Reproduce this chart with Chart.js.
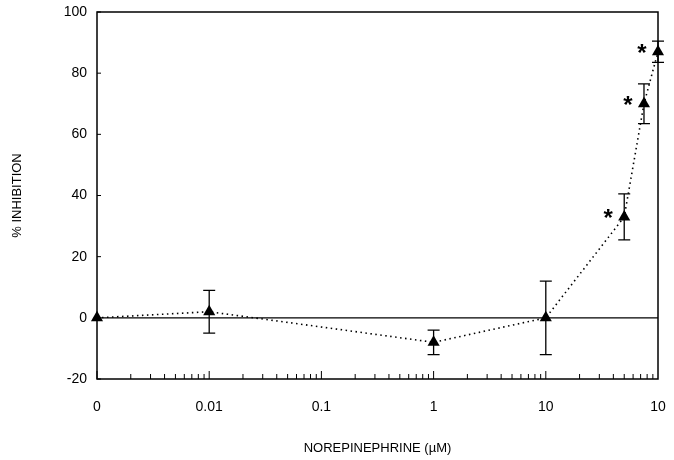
<!DOCTYPE html>
<html>
<head>
<meta charset="utf-8">
<script src="https://cdn.jsdelivr.net/npm/chart.js@4"></script>
<style>
  html, body { margin: 0; padding: 0; background: #fff; }
  #wrap { width: 674px; height: 460px; }
</style>
</head>
<body>
<div id="wrap"><canvas id="c" width="674" height="460"></canvas></div>
<script>
// ---- data ----
// Norepinephrine concentration (µM); 0 is plotted at the axis origin (break position)
const concentrations = [0, 0.01, 1, 10, 50, 75, 100];
const inhibitionMean = [0, 2, -8, 0, 33, 70, 87];
const inhibitionErr  = [0, 7, 4, 12, 7.5, 6.5, 3.5];
const significant    = [false, false, false, false, true, true, true];

// x tick positions in log10 units, and their printed labels
const xTickValues = [-3, -2, -1, 0, 1, 2];
const xTickLabels = ['0', '0.01', '0.1', '1', '10', '10'];
const yTickValues = [-20, 0, 20, 40, 60, 80, 100];

const ZERO_POS = -3; // where "0" sits on the log axis
const toLog = c => c === 0 ? ZERO_POS : Math.log10(c);

const points = concentrations.map((c, i) => ({ x: toLog(c), y: inhibitionMean[i] }));

const FONT = "'Liberation Sans', Arial, Helvetica, sans-serif";

const decorPlugin = {
  id: 'decor',
  beforeDatasetsDraw(chart) {
    const { ctx, chartArea: a, scales: { x, y } } = chart;
    ctx.save();
    ctx.strokeStyle = '#000';
    // frame
    ctx.lineWidth = 1.5;
    ctx.strokeRect(a.left, a.top, a.right - a.left, a.bottom - a.top);
    // zero line
    const y0 = y.getPixelForValue(0);
    ctx.lineWidth = 1.3;
    ctx.beginPath(); ctx.moveTo(a.left, y0); ctx.lineTo(a.right, y0); ctx.stroke();
    // y ticks (inward)
    ctx.lineWidth = 1;
    yTickValues.forEach(v => {
      const py = y.getPixelForValue(v);
      ctx.beginPath(); ctx.moveTo(a.left, py); ctx.lineTo(a.left + 4, py); ctx.stroke();
    });
    // x log ticks (inward)
    for (let d = -3; d < 2; d++) {
      for (let k = 1; k <= 9; k++) {
        const v = d + Math.log10(k);
        const px = x.getPixelForValue(v);
        const len = k === 1 ? 8 : 5;
        ctx.beginPath(); ctx.moveTo(px, a.bottom); ctx.lineTo(px, a.bottom - len); ctx.stroke();
      }
    }
    // error bars
    ctx.lineWidth = 1.3;
    points.forEach((p, i) => {
      const e = inhibitionErr[i];
      if (!e) return;
      const px = x.getPixelForValue(p.x);
      const yt = y.getPixelForValue(p.y + e);
      const yb = y.getPixelForValue(p.y - e);
      ctx.beginPath();
      ctx.moveTo(px, yt); ctx.lineTo(px, yb);
      ctx.moveTo(px - 6, yt); ctx.lineTo(px + 6, yt);
      ctx.moveTo(px - 6, yb); ctx.lineTo(px + 6, yb);
      ctx.stroke();
    });
    ctx.restore();
  },
  afterDatasetsDraw(chart) {
    const { ctx, scales: { x, y } } = chart;
    ctx.save();
    ctx.fillStyle = '#000';
    ctx.font = 'bold 24px ' + FONT;
    ctx.textAlign = 'center';
    ctx.textBaseline = 'alphabetic';
    points.forEach((p, i) => {
      if (!significant[i]) return;
      const px = x.getPixelForValue(p.x) - 16;
      const py = y.getPixelForValue(p.y) - 5;
      ctx.fillText('*', px, py + 14);
    });
    ctx.restore();
  }
};

new Chart(document.getElementById('c'), {
  type: 'scatter',
  data: {
    datasets: [{
      data: points,
      showLine: true,
      clip: false,
      borderColor: '#000',
      borderWidth: 1.6,
      borderDash: [1.5, 3.5],
      tension: 0,
      pointStyle: 'triangle',
      pointRadius: 7,
      pointBackgroundColor: '#000',
      pointBorderColor: '#000',
      pointBorderWidth: 0
    }]
  },
  options: {
    responsive: false,
    animation: false,
    layout: { padding: { left: 0, right: 16, top: 12, bottom: 0 } },
    plugins: { legend: { display: false }, tooltip: { enabled: false } },
    scales: {
      x: {
        type: 'linear', min: -3, max: 2,
        grid: { display: false, drawTicks: false },
        border: { display: false },
        afterBuildTicks: s => { s.ticks = xTickValues.map(v => ({ value: v })); },
        afterFit: s => { s.height = 81; s.paddingLeft = 0; s.paddingRight = 0; },
        ticks: {
          padding: 20,
          color: '#000',
          font: { family: FONT, size: 14 },
          maxRotation: 0,
          autoSkip: false,
          callback: v => xTickLabels[xTickValues.indexOf(v)]
        },
        title: {
          display: true, text: 'NOREPINEPHRINE (µM)', color: '#000',
          font: { family: FONT, size: 13 }, padding: { top: 4, bottom: 4 }
        }
      },
      y: {
        type: 'linear', min: -20, max: 100,
        grid: { display: false, drawTicks: false },
        border: { display: false },
        afterBuildTicks: s => { s.ticks = yTickValues.map(v => ({ value: v })); },
        afterFit: s => { s.width = 97; s.paddingTop = 0; s.paddingBottom = 0; },
        ticks: {
          padding: 10,
          color: '#000',
          font: { family: FONT, size: 14 }
        },
        title: {
          display: true, text: '% INHIBITION', color: '#000',
          font: { family: FONT, size: 13 }, padding: { top: 10, bottom: 10 }
        }
      }
    }
  },
  plugins: [decorPlugin]
});
</script>
</body>
</html>
